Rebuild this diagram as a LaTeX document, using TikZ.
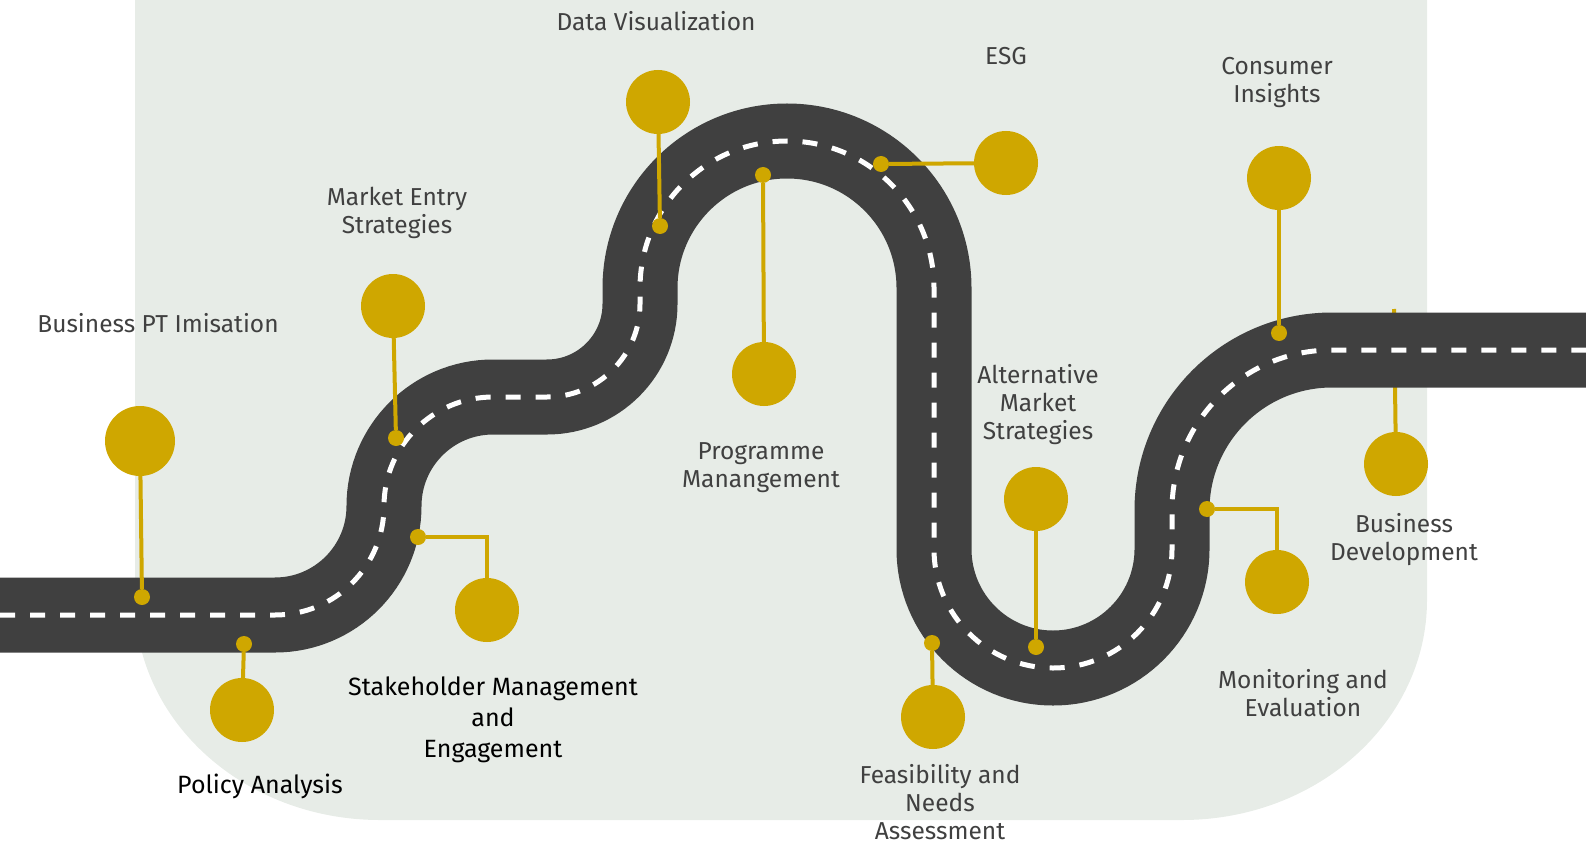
\documentclass[tikz,border=0pt]{standalone}
\usepackage{fontspec}
\setmainfont{Fira Sans}
\definecolor{roadgray}{HTML}{404040}
\definecolor{pingold}{HTML}{CFA700}
\definecolor{fieldgray}{HTML}{E7ECE7}
\definecolor{labelgray}{HTML}{404040}
\tikzset{
  pin/.style={circle, fill=pingold, inner sep=0pt, minimum size=64pt},
  pindot/.style={circle, fill=pingold, inner sep=0pt, minimum size=16pt},
  stem/.style={draw=pingold, line width=4pt},
  road/.style={draw=roadgray, line width=75pt,
    postaction={draw=white, line width=5pt, dash pattern=on 15pt off 15pt}},
  tag/.style={text=labelgray, align=center, anchor=base,
    font=\fontsize{24.5}{28}\selectfont},
  blacktag/.style={text=black, align=center, anchor=base,
    font=\fontsize{25}{31}\selectfont}
}
\begin{document}
\begin{tikzpicture}[x=1pt,y=-1pt]
  \useasboundingbox (0,0) rectangle (1586,845);
  \fill[fieldgray] (135,-5) -- (135,600)
    arc[start angle=180, end angle=90, x radius=245, y radius=220]
    -- (1182,820)
    arc[start angle=90, end angle=0, x radius=245, y radius=220]
    -- (1427,-5) -- cycle;
  % this stem runs under the road
  \node[pin] (bd) at (1396,464) {};
  \coordinate (bd-top) at (1394,309);
  \draw[stem] (bd-top) -- (bd);
  \draw[road] (0,615) -- (275,615)
    arc[start angle=90, end angle=0, radius=109]
    arc[start angle=180, end angle=270, radius=109]
    -- (547,397)
    arc[start angle=90, end angle=0, radius=93]
    -- (640,288)
    arc[start angle=180, end angle=360, radius=147]
    -- (934,549)
    arc[start angle=180, end angle=0, radius=119]
    -- (1172,510)
    arc[start angle=180, end angle=270, radius=160]
    -- (1600,350);
  \draw
    (140,441) node[pin, minimum size=70pt] (bpt){}
    (242,710) node[pin] (pa){}
    (393,306) node[pin] (mes){}
    (487,610) node[pin] (sme){}
    (658,102) node[pin] (dv){}
    (764,374) node[pin] (pm){}
    (1006,163) node[pin] (esg){}
    (1036,499) node[pin] (ams){}
    (933,717) node[pin] (fna){}
    (1277,582) node[pin] (mne){}
    (1279,178) node[pin] (ci){};
  \draw
    (142,597) node[pindot] (bpt-d){}
    (244,644) node[pindot] (pa-d){}
    (396,438) node[pindot] (mes-d){}
    (418,537) node[pindot] (sme-d){}
    (660,226) node[pindot] (dv-d){}
    (763,175) node[pindot] (pm-d){}
    (881,164) node[pindot] (esg-d){}
    (1036,647) node[pindot] (ams-d){}
    (932,643) node[pindot] (fna-d){}
    (1207,509) node[pindot] (mne-d){}
    (1279,333) node[pindot] (ci-d){};
  \begin{scope}[stem]
    \draw (bpt-d) to (bpt);
    \draw (pa-d) to (pa);
    \draw (mes-d) to (mes);
    \draw (sme-d) -| (sme);
    \draw (dv-d) to (dv);
    \draw (pm-d) to (pm);
    \draw (esg-d) to (esg);
    \draw (ams-d) to (ams);
    \draw (fna-d) to (fna);
    \draw (mne-d) -| (mne);
    \draw (ci-d) to (ci);
  \end{scope}
  % base anchor sits on the last line
  \node[tag] (bpt-t) at (158,332) {Business PT Imisation};
  \node[blacktag] (pa-t) at (260,793) {Policy Analysis};
  \node[tag] (mes-t) at (397,233) {Market Entry\\Strategies};
  \node[blacktag] (sme-t) at (493,757) {Stakeholder Management\\and\\Engagement};
  \node[tag] (dv-t) at (656,31) {Data Visualization};
  \node[tag] (pm-t) at (761,487) {Programme\\Manangement};
  \node[tag] (esg-t) at (1006,65) {ESG};
  \node[tag] (ams-t) at (1038,439) {Alternative\\Market\\Strategies};
  \node[tag] (fna-t) at (940,839) {Feasibility and\\Needs\\Assessment};
  \node[tag] (mne-t) at (1303,716) {Monitoring and\\Evaluation};
  \node[tag] (bd-t) at (1404,560) {Business\\Development};
  \node[tag] (ci-t) at (1277,103) {Consumer\\Insights};
\end{tikzpicture}
\end{document}
